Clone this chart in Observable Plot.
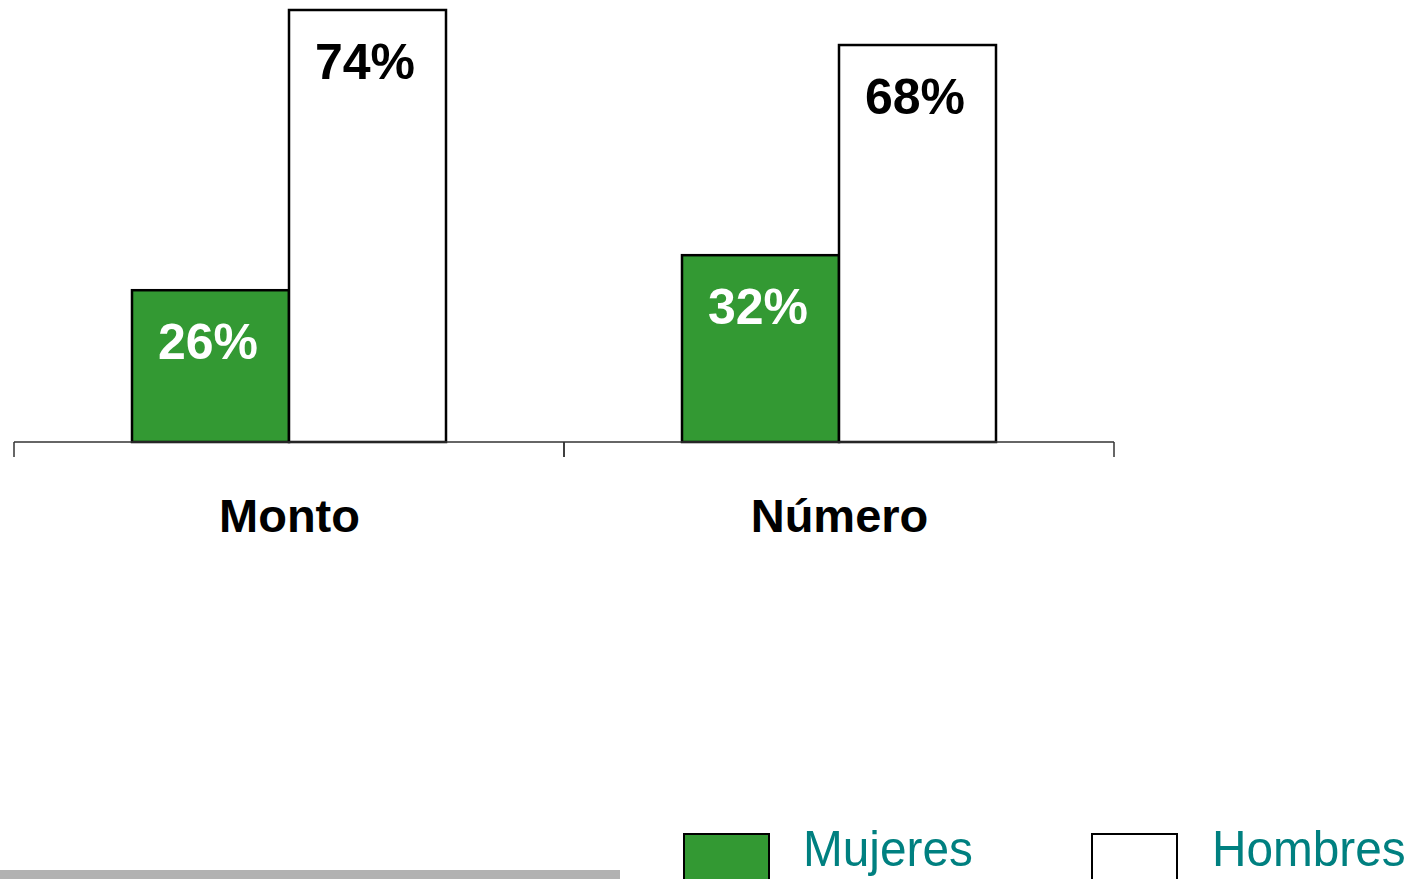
<!DOCTYPE html>
<html>
<head>
<meta charset="utf-8">
<script src="https://cdn.jsdelivr.net/npm/d3@7"></script>
<script src="https://cdn.jsdelivr.net/npm/@observablehq/plot@0.6"></script>
<style>
  html, body { margin: 0; padding: 0; background: #fff; }
  #wrap { position: relative; width: 1422px; height: 879px; overflow: hidden; font-family: "Liberation Sans", Arial, sans-serif; }
  #chart svg { display: block; font-family: "Liberation Sans", Arial, sans-serif; }
  #chart [aria-label^="fx-axis"] text { font: bold 47px "Liberation Sans", Arial, sans-serif; fill: #000; }
  .legend-item { position: absolute; top: 833px; display: flex; align-items: flex-start; }
  .swatch { width: 87px; height: 60px; border: 2px solid #000; box-sizing: border-box; }
  .legend-label { position: absolute; top: 819px; font-size: 50px; color: #008080; transform: scaleX(0.955); transform-origin: left top; line-height: 1.2; white-space: nowrap; }
  #grayband { position: absolute; left: 0; top: 870px; width: 620px; height: 9px; background: #b2b2b2; }
</style>
</head>
<body>
<div id="wrap">
  <div id="chart"></div>
  <div id="grayband"></div>
  <div id="legend"></div>
</div>
<script>
const categories = ["Monto", "Número"];
const series = ["Mujeres", "Hombres"];
const mujeres = [26, 32];
const hombres = [74, 68];
const seriesColors = ["#339933", "#ffffff"];

const rows = [];
categories.forEach((c, i) => {
  rows.push({cat: c, sex: series[0], value: mujeres[i]});
  rows.push({cat: c, sex: series[1], value: hombres[i]});
});

const baseline = (index, scales, values, dimensions, context) => {
  const x = scales.x, y = scales.y;
  const [x0, x1] = x.range();
  const y0 = y(0);
  const g = d3.create("svg:g").attr("stroke", "#333").attr("stroke-width", 1.5).attr("fill", "none");
  g.append("line").attr("x1", x0).attr("x2", x1).attr("y1", y0).attr("y2", y0);
  g.append("line").attr("x1", x0).attr("x2", x0).attr("y1", y0).attr("y2", y0 + 15);
  g.append("line").attr("x1", x1).attr("x2", x1).attr("y1", y0).attr("y2", y0 + 15);
  return g.node();
};

const chart = Plot.plot({
  width: 1422,
  height: 560,
  marginTop: 10,
  marginBottom: 118,
  marginLeft: 13,
  marginRight: 308,
  facet: {data: rows, x: "cat"},
  fx: {domain: categories, paddingInner: 0, paddingOuter: 0, axis: "bottom", tickSize: 0, tickPadding: 56, label: null},
  x: {domain: series, paddingInner: 0, paddingOuter: 0.744, axis: null},
  y: {domain: [0, 74], axis: null},
  color: {domain: series, range: seriesColors},
  marks: [
    Plot.barY(rows, {x: "sex", y: "value", fill: "sex", stroke: "#000", strokeWidth: 2.5}),
    Plot.text(rows, Plot.filter(d => d.sex === series[0], {x: "sex", y: "value", text: d => d.value + "%", dy: 52, dx: -3, fill: "#fff", fontSize: 50, fontWeight: "bold"})),
    Plot.text(rows, Plot.filter(d => d.sex === series[1], {x: "sex", y: "value", text: d => d.value + "%", dy: 52, dx: -3, fill: "#000", fontSize: 50, fontWeight: "bold"})),
    baseline
  ]
});
document.getElementById("chart").appendChild(chart);

// Legend (HTML, below the SVG)
const legend = document.getElementById("legend");
const legendPos = [{box: 683, text: 803}, {box: 1091, text: 1212}];
series.forEach((s, i) => {
  const sw = document.createElement("div");
  sw.className = "legend-item";
  sw.style.left = legendPos[i].box + "px";
  const box = document.createElement("div");
  box.className = "swatch";
  box.style.background = seriesColors[i];
  sw.appendChild(box);
  legend.appendChild(sw);
  const lab = document.createElement("div");
  lab.className = "legend-label";
  lab.style.left = legendPos[i].text + "px";
  lab.textContent = s;
  legend.appendChild(lab);
});
</script>
</body>
</html>
